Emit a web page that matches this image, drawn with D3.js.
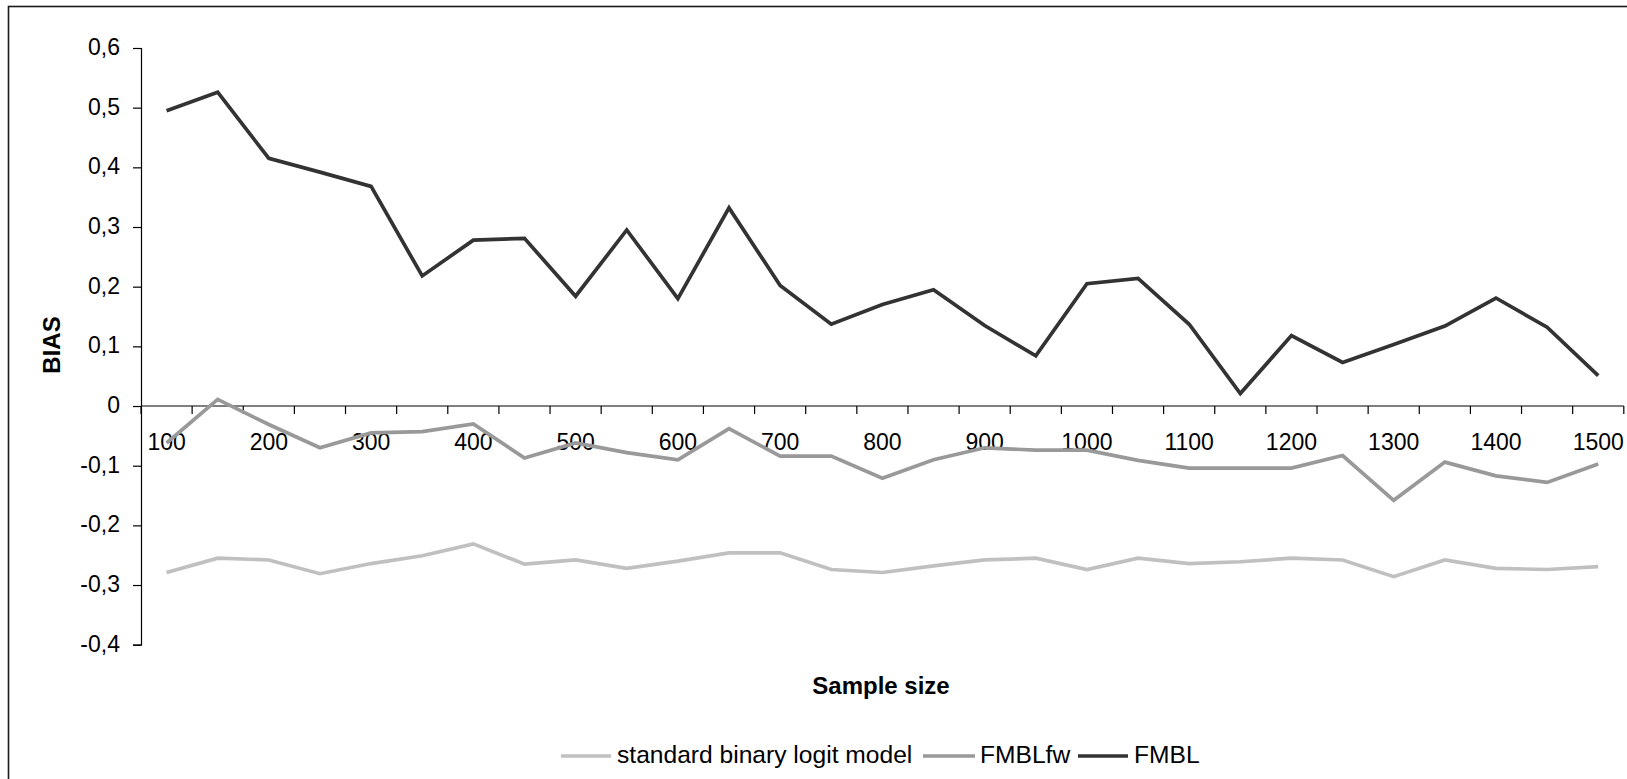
<!DOCTYPE html>
<html>
<head>
<meta charset="utf-8">
<script src="https://cdn.jsdelivr.net/npm/d3@7/dist/d3.min.js"></script>
<style>
  html, body { margin: 0; padding: 0; background: #fff; }
  svg { display: block; }
  text { font-family: Arial, "Liberation Sans", sans-serif; fill: #000; }
</style>
</head>
<body>
<svg id="chart" width="1627" height="779"></svg>
<script>
const sampleSizes = [100,150,200,250,300,350,400,450,500,550,600,650,700,750,800,850,900,950,1000,1050,1100,1150,1200,1250,1300,1350,1400,1450,1500];
const xLabels = ["100","200","300","400","500","600","700","800","900","1000","1100","1200","1300","1400","1500"];
const yTicks = [0.6,0.5,0.4,0.3,0.2,0.1,0,-0.1,-0.2,-0.3,-0.4];

const standardLogit = [-0.279,-0.255,-0.258,-0.281,-0.264,-0.251,-0.231,-0.265,-0.258,-0.272,-0.260,-0.246,-0.246,-0.274,-0.279,-0.268,-0.258,-0.255,-0.274,-0.255,-0.264,-0.261,-0.255,-0.258,-0.286,-0.258,-0.272,-0.274,-0.269];
const fmblfw = [-0.062,0.011,-0.031,-0.070,-0.045,-0.043,-0.030,-0.087,-0.062,-0.078,-0.090,-0.038,-0.084,-0.084,-0.121,-0.090,-0.070,-0.074,-0.074,-0.091,-0.104,-0.104,-0.104,-0.083,-0.158,-0.094,-0.117,-0.128,-0.097];
const fmbl = [0.495,0.526,0.415,0.392,0.368,0.218,0.278,0.281,0.184,0.295,0.180,0.332,0.202,0.137,0.170,0.195,0.135,0.084,0.205,0.214,0.137,0.021,0.118,0.073,0.103,0.134,0.181,0.132,0.051];

const seriesNames = ["standard binary logit model","FMBLfw","FMBL"];
const seriesColors = ["#c0c0c0","#999999","#333333"];
const seriesData = [standardLogit, fmblfw, fmbl];

const svg = d3.select("#chart");

// outer frame (right/bottom edges fall outside the picture)
svg.append("rect").attr("x", 8.5).attr("y", 6.5).attr("width", 1640).attr("height", 800)
  .attr("fill", "none").attr("stroke", "#1a1a1a").attr("stroke-width", 1.6);

const x = d3.scaleBand().domain(sampleSizes).range([141, 1623.8]).paddingInner(0).paddingOuter(0);
const y = d3.scaleLinear().domain([-0.4, 0.6]).range([644.7, 48]);

const fmt = v => (v === 0 ? "0" : d3.format(".1f")(v).replace(".", ",").replace("−", "-"));

// Y axis
const yAxis = d3.axisLeft(y).tickValues(yTicks).tickSize(8).tickPadding(13).tickFormat(fmt);
const gy = svg.append("g").attr("transform", "translate(141,0)").call(yAxis);
gy.select(".domain").attr("stroke", "#000").attr("stroke-width", 1.2);
gy.selectAll(".tick line").attr("stroke", "#000").attr("stroke-width", 1.2);
gy.selectAll(".tick text").attr("font-size", 23).attr("font-family", "Arial, 'Liberation Sans', sans-serif")
  .attr("fill", "#000").attr("dy", "0.28em");

// X axis at y=0 with tick marks at category boundaries
const zeroY = y(0);
const gx = svg.append("g").attr("transform", `translate(0,${zeroY})`);
gx.append("line").attr("x1", x.range()[0]).attr("x2", x.range()[1]).attr("y1", 0).attr("y2", 0)
  .attr("stroke", "#000").attr("stroke-width", 1.2);
const boundaries = sampleSizes.map(d => x(d)).concat([x.range()[1]]);
gx.selectAll("line.tk").data(boundaries).enter().append("line").attr("class", "tk")
  .attr("x1", d => d).attr("x2", d => d).attr("y1", 0).attr("y2", 8)
  .attr("stroke", "#000").attr("stroke-width", 1.2);
gx.selectAll("text.xl").data(xLabels).enter().append("text").attr("class", "xl")
  .attr("x", d => x(+d) + x.bandwidth() / 2).attr("y", 450 - zeroY)
  .attr("text-anchor", "middle").attr("font-size", 23).text(d => d);

// Lines
const line = d3.line().x((d, i) => x(sampleSizes[i]) + x.bandwidth() / 2).y(d => y(d));
seriesData.forEach((data, k) => {
  svg.append("path").datum(data).attr("d", line).attr("fill", "none")
    .attr("stroke", seriesColors[k]).attr("stroke-width", 3.7)
    .attr("stroke-linejoin", "miter").attr("stroke-linecap", "butt");
});

// Axis titles
svg.append("text").attr("transform", "translate(60,345) rotate(-90)")
  .attr("text-anchor", "middle").attr("font-size", 24).attr("font-weight", "bold").text("BIAS");
svg.append("text").attr("x", 881).attr("y", 694)
  .attr("text-anchor", "middle").attr("font-size", 24).attr("font-weight", "bold").text("Sample size");

// Legend
const legendItems = [
  {x1: 561, x2: 611, tx: 617},
  {x1: 923, x2: 975, tx: 980},
  {x1: 1078, x2: 1128, tx: 1134}
];
const lg = svg.append("g");
legendItems.forEach((it, k) => {
  lg.append("line").attr("x1", it.x1).attr("x2", it.x2).attr("y1", 756).attr("y2", 756)
    .attr("stroke", seriesColors[k]).attr("stroke-width", 3.7);
  lg.append("text").attr("x", it.tx).attr("y", 763).attr("font-size", 24.6).text(seriesNames[k]);
});
</script>
</body>
</html>
